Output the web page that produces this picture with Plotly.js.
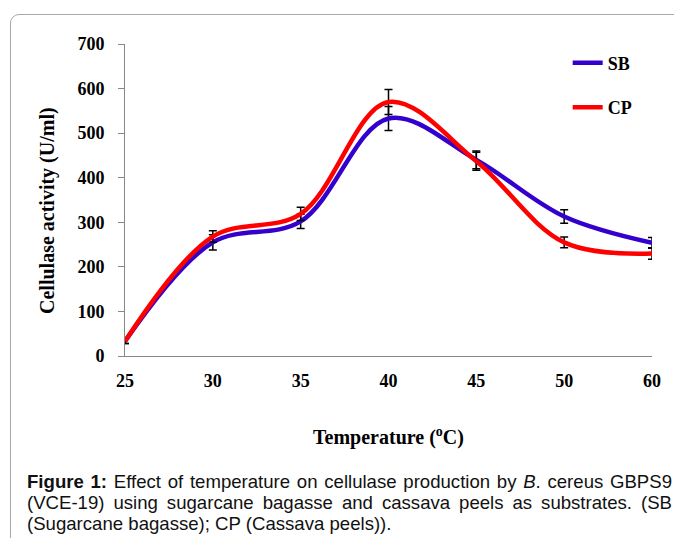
<!DOCTYPE html>
<html>
<head>
<meta charset="utf-8">
<script src="https://cdn.plot.ly/plotly-3.0.1.min.js"></script>
<style>
  html, body { margin: 0; padding: 0; width: 674px; height: 538px; overflow: hidden; background: #fff; }
  #chart { position: absolute; left: 0; top: 0; width: 674px; height: 538px; }
  #frame { position: absolute; left: 10px; top: 14px; width: 720px; height: 600px;
           border: 1px solid #a8a8a8; border-radius: 9px; pointer-events: none; }
  #caption { position: absolute; left: 27px; top: 471px; width: 645px;
             font-family: "Liberation Sans", Arial, sans-serif; font-size: 18.6px; line-height: 21px; color: #111; }
  #caption .j { text-align: justify; text-align-last: justify; white-space: nowrap; }
  #caption .l { text-align: left; white-space: nowrap; }
</style>
</head>
<body>
<div id="chart"></div>
<div id="frame"></div>
<div id="caption">
  <div class="j"><b>Figure 1:</b> Effect of temperature on cellulase production by <i>B</i>. cereus GBPS9</div>
  <div class="j">(VCE-19) using sugarcane bagasse and cassava peels as substrates. (SB</div>
  <div class="l">(Sugarcane bagasse); CP (Cassava peels)).</div>
</div>
<script>
// Data
const temperatures = ["25", "30", "35", "40", "45", "50", "60"];
const sbValues = [33, 255, 302, 533, 440, 313, 254];
const sbErrors = [5, 17, 16, 27, 20, 15, 12];
const cpValues = [33, 268, 319, 570, 437, 255, 230];
const cpErrors = [5, 13, 15, 28, 20, 12, 13];
const yTicks = [0, 100, 200, 300, 400, 500, 600, 700];

const serif = '"Liberation Serif", "Times New Roman", serif';

const traces = [
  {
    name: 'SB', x: temperatures, y: sbValues, type: 'scatter', mode: 'lines',
    line: { color: '#3300cc', width: 4.5, shape: 'spline', smoothing: 1 },
    error_y: { type: 'data', array: sbErrors, visible: true, color: '#000', thickness: 1.5, width: 4 },
    legendgroup: 'sb', cliponaxis: false
  },
  {
    name: 'CP', x: temperatures, y: cpValues, type: 'scatter', mode: 'lines',
    line: { color: '#ff0000', width: 4.5, shape: 'spline', smoothing: 1 },
    error_y: { type: 'data', array: cpErrors, visible: true, color: '#000', thickness: 1.5, width: 4 },
    legendgroup: 'cp', cliponaxis: false
  }
];

const layout = {
  width: 674, height: 538,
  margin: { l: 125, r: 22, t: 44, b: 182 },
  paper_bgcolor: 'rgba(0,0,0,0)', plot_bgcolor: 'rgba(0,0,0,0)',
  font: { family: serif, color: '#000' },
  showlegend: true,
  legend: {
    x: 0.840, y: 0.998, xanchor: 'left', yanchor: 'top',
    font: { family: serif, size: 18, color: '#000', weight: 'bold' },
    tracegroupgap: 18, bgcolor: 'rgba(0,0,0,0)'
  },
  xaxis: {
    type: 'category', range: [0, 6], showgrid: false, zeroline: false,
    showline: true, linecolor: '#888', linewidth: 1,
    ticks: '', ticklabelstandoff: 8,
    tickfont: { family: serif, size: 18, color: '#000', weight: 'bold' },
    title: { text: 'Temperature (<sup>o</sup>C)', standoff: 40,
             font: { family: serif, size: 20, color: '#000', weight: 'bold' } }
  },
  yaxis: {
    range: [0, 700], tickvals: yTicks, ticktext: yTicks.map(String),
    showgrid: false, zeroline: false, showline: true, linecolor: '#888', linewidth: 1,
    ticks: 'outside', ticklen: 6, tickcolor: '#888', tickwidth: 1, ticklabelstandoff: 10,
    tickfont: { family: serif, size: 18, color: '#000', weight: 'bold' }
  },
  annotations: [
    { text: 'Cellulase activity (U/ml)', xref: 'paper', yref: 'paper',
      x: -0.146, y: 0.465, xanchor: 'center', yanchor: 'middle', textangle: -90, showarrow: false,
      font: { family: serif, size: 20, color: '#000', weight: 'bold' } }
  ]
};

Plotly.newPlot('chart', traces, layout, { staticPlot: true, displayModeBar: false });
</script>
</body>
</html>
